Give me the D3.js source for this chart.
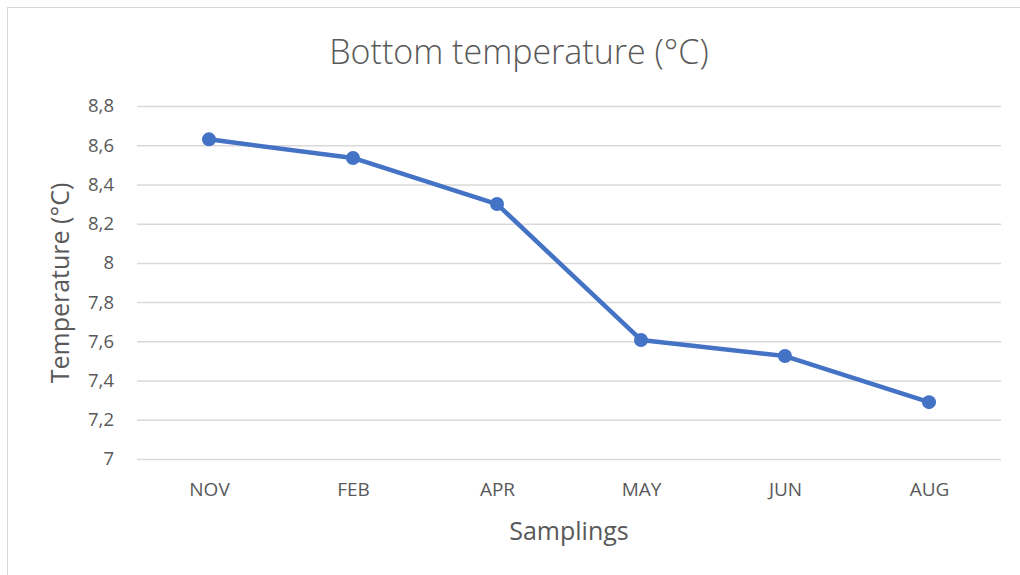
<!DOCTYPE html>
<html>
<head>
  <script src="https://d3js.org/d3.v7.min.js"></script>
  <style>
    body { margin: 0; background: #fff; }
    text { font-family: "Open Sans", sans-serif; fill: #595959; }
  </style>
</head>
<body>
  <svg width="1020" height="575"></svg>

  <script>
    // Data
    const months = ["NOV", "FEB", "APR", "MAY", "JUN", "AUG"];
    const temps = [8.63, 8.535, 8.30, 7.607, 7.525, 7.29];
    const yTicks = [7, 7.2, 7.4, 7.6, 7.8, 8, 8.2, 8.4, 8.6, 8.8];

    const svg = d3.select("svg");

    // chart frame
    svg.append("rect")
      .attr("x", 7.5).attr("y", 7.5)
      .attr("width", 1030).attr("height", 600)
      .attr("fill", "none")
      .attr("stroke", "#d9d9d9");

    const plot = { left: 137, right: 1001, top: 106, bottom: 459 };

    const x = d3.scalePoint()
      .domain(months)
      .range([plot.left, plot.right])
      .padding(0.5);

    const y = d3.scaleLinear()
      .domain([7, 8.8])
      .range([plot.bottom, plot.top]);

    const fmt = d => d3.format("~g")(d).replace(".", ",");

    // gridlines + y labels
    const yAxis = svg.append("g")
      .attr("transform", `translate(${plot.left},0)`)
      .call(d3.axisLeft(y).tickValues(yTicks).tickFormat(fmt)
        .tickSize(-(plot.right - plot.left)).tickPadding(23));
    yAxis.select(".domain").remove();
    yAxis.selectAll("line").attr("stroke", "#d9d9d9").attr("stroke-width", 1.5);
    yAxis.selectAll("text").attr("font-size", 18.5);
    yAxis.attr("font-family", null);

    // x labels
    const xAxis = svg.append("g")
      .attr("transform", `translate(0,${plot.bottom})`)
      .call(d3.axisBottom(x).tickSize(0).tickPadding(24));
    xAxis.select(".domain").remove();
    xAxis.selectAll("text").attr("font-size", 19);
    xAxis.attr("font-family", null);

    // line
    const line = d3.line()
      .x((d, i) => x(months[i]))
      .y(d => y(d));

    svg.append("path")
      .datum(temps)
      .attr("fill", "none")
      .attr("stroke", "#4472c4")
      .attr("stroke-width", 4.5)
      .attr("stroke-linejoin", "round")
      .attr("d", line);

    svg.selectAll("circle")
      .data(temps)
      .join("circle")
      .attr("cx", (d, i) => x(months[i]))
      .attr("cy", d => y(d))
      .attr("r", 7)
      .attr("fill", "#4472c4");

    // titles
    svg.append("text")
      .attr("x", 519).attr("y", 64)
      .attr("text-anchor", "middle")
      .attr("font-size", 34)
      .attr("font-weight", 300)
      .text("Bottom temperature (°C)");

    svg.append("text")
      .attr("x", 569).attr("y", 540)
      .attr("text-anchor", "middle")
      .attr("font-size", 25)
      .text("Samplings");

    svg.append("text")
      .attr("transform", "translate(69,283) rotate(-90)")
      .attr("text-anchor", "middle")
      .attr("font-size", 25)
      .text("Temperature (°C)");
  </script>
</body>
</html>
